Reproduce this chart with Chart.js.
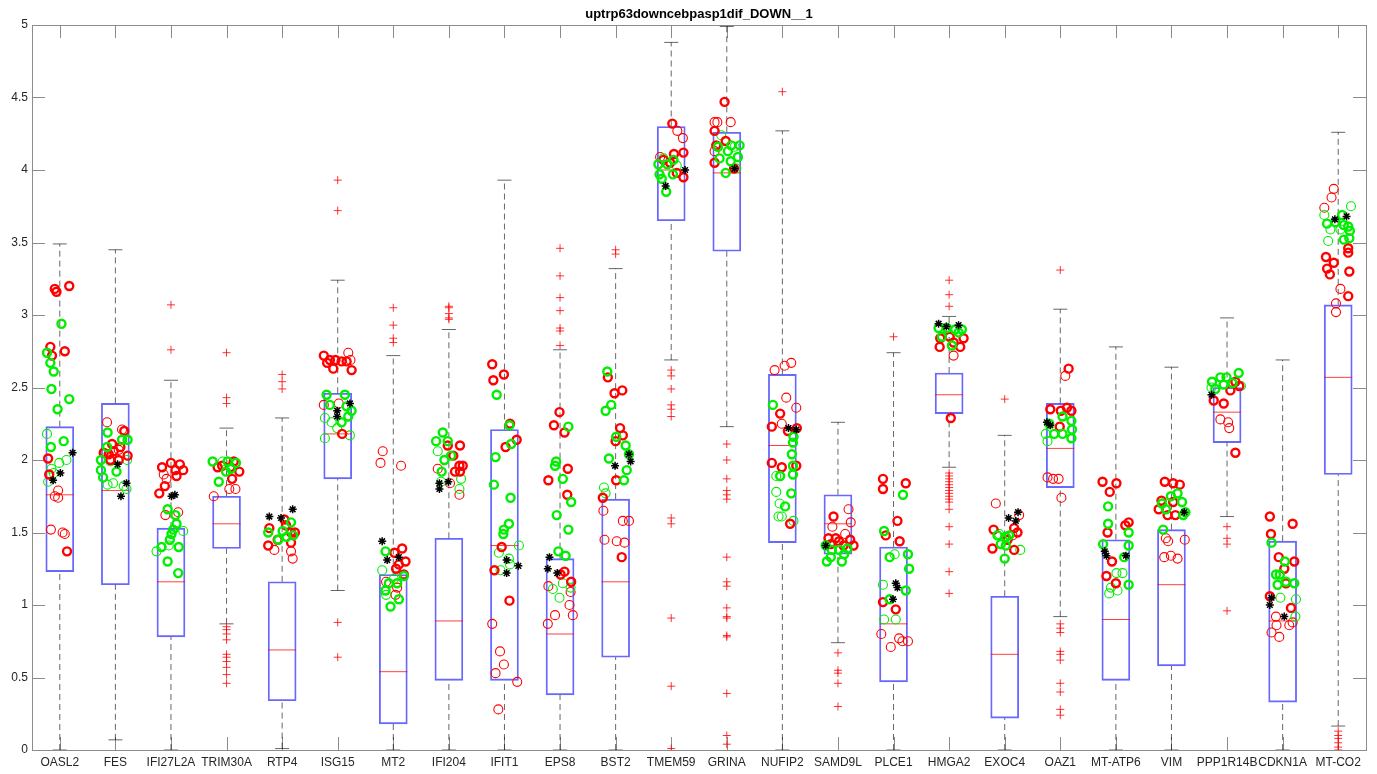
<!DOCTYPE html>
<html>
<head>
<meta charset="utf-8">
<title>uptrp63downcebpasp1dif_DOWN__1</title>
<script src="https://cdn.jsdelivr.net/npm/chart.js@4.4.1/dist/chart.umd.min.js"></script>
<style>
  html, body { margin: 0; padding: 0; background: #fff; }
  canvas { display: block; }
</style>
</head>
<body>
<canvas id="chart" width="1377" height="774"></canvas>
<script>
const title = 'uptrp63downcebpasp1dif_DOWN__1';
const genes = ['OASL2', 'FES', 'IFI27L2A', 'TRIM30A', 'RTP4', 'ISG15', 'MT2', 'IFI204', 'IFIT1', 'EPS8', 'BST2', 'TMEM59',
  'GRINA', 'NUFIP2', 'SAMD9L', 'PLCE1', 'HMGA2', 'EXOC4', 'OAZ1', 'MT-ATP6', 'VIM', 'PPP1R14B', 'CDKN1A', 'MT-CO2'];

// box statistics per gene
const whiskerLow = [0, 0.07, 0, 0.87, 0.01, 1.10, 0, 0, 0, 0, 0, 2.69, 2.23, 0, 0.74, 0, 1.95, 0, 0.92, 0, 0, 1.61, 0, 0.165];
const q1 = [1.23, 1.14, 0.78, 1.39, 0.34, 1.87, 0.18, 0.48, 0.48, 0.38, 0.64, 3.65, 3.44, 1.43, 1.35, 0.47, 2.32, 0.22, 1.81, 0.48, 0.58, 2.12, 0.33, 1.90];
const medians = [1.76, 1.79, 1.16, 1.56, 0.69, 2.18, 0.54, 0.89, 1.41, 0.80, 1.16, 4.00, 3.98, 2.10, 1.56, 0.87, 2.45, 0.66, 2.08, 0.90, 1.14, 2.33, 0.89, 2.57];
const q3 = [2.23, 2.39, 1.53, 1.75, 1.16, 2.46, 1.21, 1.46, 2.21, 1.32, 1.73, 4.30, 4.26, 2.59, 1.76, 1.40, 2.60, 1.06, 2.39, 1.45, 1.52, 2.50, 1.44, 3.07];
const whiskerHigh = [3.49, 3.45, 2.55, 2.22, 2.29, 3.24, 2.72, 2.90, 3.93, 2.76, 3.32, 4.88, 4.99, 4.27, 2.26, 2.74, 2.99, 2.17, 3.04, 2.78, 2.64, 2.98, 2.69, 4.26];

const outliers = [
  [], [], [3.07, 2.76],
  [2.74, 2.43, 2.39, 0.85, 0.83, 0.80, 0.76, 0.66, 0.64, 0.61, 0.57, 0.52, 0.46],
  [2.59, 2.54, 2.49],
  [3.93, 3.72, 0.88, 0.64],
  [3.05, 2.93, 2.84, 2.81],
  [3.06, 3.05, 3.01, 2.98, 2.97],
  [],
  [3.46, 3.27, 3.12, 3.03, 2.91, 2.89, 2.79],
  [3.45, 3.42],
  [2.62, 2.58, 2.49, 2.38, 2.35, 2.30, 1.60, 1.56, 0.91, 0.44, 0.01],
  [2.11, 2.00, 1.87, 1.79, 1.76, 1.73, 1.33, 1.16, 1.13, 0.98, 0.92, 0.91, 0.79, 0.78, 0.39, 0.10, 0.04],
  [4.54],
  [0.67, 0.55, 0.53, 0.46, 0.30],
  [2.85],
  [3.24, 3.14, 3.06, 1.91, 1.89, 1.87, 1.85, 1.83, 1.81, 1.79, 1.77, 1.75, 1.73, 1.71, 1.66, 1.54, 1.42, 1.23, 1.08],
  [2.42],
  [3.31, 0.87, 0.84, 0.81, 0.68, 0.66, 0.62, 0.46, 0.40, 0.28, 0.24],
  [], [],
  [1.54, 1.46, 1.42, 0.96],
  [],
  [0.13, 0.10, 0.08, 0.05, 0.02, 0.0]
];

// sample points per gene: [jitter, value]
const redThick = [
  [[-0.09, 3.18], [-0.06, 3.16], [0.17, 3.20], [-0.17, 2.78], [-0.14, 2.72], [0.09, 2.75], [-0.21, 2.01], [-0.19, 1.90], [0.13, 1.37]],
  [[0.16, 2.20], [-0.06, 2.11], [-0.21, 2.05], [-0.12, 2.04], [-0.03, 2.06], [0.06, 2.00], [0.22, 2.03], [0.09, 2.09], [-0.09, 2.00]],
  [[-0.16, 1.95], [0, 1.98], [0.16, 1.97], [0.22, 1.93], [0.08, 1.93], [0.10, 1.89], [-0.11, 1.82], [-0.21, 1.77]],
  [[0.13, 1.99], [-0.08, 1.96], [0.07, 1.95], [0.23, 1.92], [0.10, 1.87], [-0.16, 1.95]],
  [[-0.23, 1.53], [-0.25, 1.41], [0.04, 1.59], [0.16, 1.50], [0.23, 1.50], [0.16, 1.43], [-0.08, 1.45], [0.07, 1.55]],
  [[-0.25, 2.72], [-0.14, 2.69], [-0.04, 2.69], [0.07, 2.68], [0.16, 2.68], [0.25, 2.62], [-0.08, 2.63], [-0.19, 2.67], [0.08, 2.18]],
  [[0.02, 1.36], [0.16, 1.39], [0.22, 1.30], [0.05, 1.25], [0.19, 1.21], [0.10, 1.28]],
  [[-0.02, 2.10], [0.20, 2.10], [0.08, 2.03], [0.19, 1.96], [0.25, 1.96], [0.11, 1.92], [0.20, 1.92]],
  [[-0.22, 2.66], [-0.20, 2.55], [-0.01, 2.59], [0.10, 2.25], [0.22, 2.14], [0.02, 2.09], [-0.05, 1.40], [-0.18, 1.24], [0.09, 1.03]],
  [[-0.01, 2.33], [-0.11, 2.24], [0.08, 2.19], [0.14, 1.94], [-0.21, 1.86], [0.13, 1.76], [0.01, 1.21], [0.08, 1.23], [0.20, 1.16]],
  [[-0.14, 2.57], [-0.02, 2.46], [0.12, 2.48], [0.08, 2.22], [0.13, 2.17], [0, 2.13], [0.01, 1.86], [-0.23, 1.74], [0.11, 1.33]],
  [[0.02, 4.32], [0.22, 4.12], [0.05, 4.11], [-0.14, 4.07], [-0.02, 4.05], [0.10, 3.98], [0.22, 3.95]],
  [[-0.04, 4.47], [-0.22, 4.27], [-0.02, 4.20], [-0.19, 4.17], [-0.22, 4.05], [0.13, 4.01]],
  [[-0.04, 2.32], [-0.19, 2.23], [0.10, 2.20], [0.26, 2.22], [-0.19, 1.98], [-0.01, 1.95], [0.25, 1.96], [0.14, 1.56]],
  [[-0.08, 1.61], [-0.17, 1.46], [-0.04, 1.46], [0.22, 1.45], [0.02, 1.44], [-0.13, 1.42], [0.10, 1.41], [0.28, 1.41]],
  [[-0.19, 1.87], [-0.19, 1.80], [0.22, 1.84], [0.07, 1.58], [-0.14, 1.48], [0.11, 1.44], [-0.19, 1.02], [0.04, 0.97]],
  [[-0.16, 2.84], [-0.17, 2.78], [0.01, 2.85], [0.08, 2.81], [0.26, 2.84], [0.20, 2.78], [0.03, 2.29]],
  [[-0.20, 1.52], [0.17, 1.53], [0.23, 1.50], [-0.22, 1.39], [0.17, 1.38], [0.05, 1.45]],
  [[0.15, 2.63], [-0.18, 2.35], [0.01, 2.34], [0.12, 2.36], [0.20, 2.34], [-0.01, 2.23]],
  [[-0.24, 1.85], [0.01, 1.84], [-0.11, 1.78], [0.23, 1.57], [0.17, 1.55], [-0.15, 1.50], [-0.07, 1.30], [-0.17, 1.20], [0, 1.15]],
  [[-0.12, 1.85], [0.03, 1.84], [0.15, 1.83], [-0.18, 1.72], [0.03, 1.71], [-0.23, 1.66], [-0.07, 1.62], [0.07, 1.62]],
  [[-0.24, 2.41], [-0.06, 2.39], [0.06, 2.48], [0.15, 2.54], [0.22, 2.51], [0.15, 2.05]],
  [[-0.23, 1.61], [0.18, 1.56], [-0.21, 1.49], [-0.07, 1.33], [0.21, 1.30], [0.03, 1.25], [0.06, 1.15], [-0.23, 1.06], [0.15, 0.98]],
  [[-0.22, 3.40], [-0.08, 3.36], [-0.20, 3.32], [-0.15, 3.28], [0.18, 3.46], [0.18, 3.43], [0.20, 3.30], [0.18, 3.13]]
];

const redThin = [
  [[-0.03, 1.79], [-0.09, 1.75], [-0.03, 1.74], [-0.16, 1.52], [0.05, 1.50], [0.09, 1.49]],
  [[-0.15, 2.26], [0.12, 2.21], [0.06, 2.07]],
  [[-0.13, 1.90], [-0.08, 1.87], [0.13, 1.64], [-0.10, 1.62]],
  [[-0.23, 1.75], [0.05, 1.80], [0.16, 1.80]],
  [[-0.14, 1.38], [0.16, 1.37], [0.19, 1.32]],
  [[0.19, 2.74], [0.23, 2.69], [-0.25, 2.38], [0.02, 2.39]],
  [[-0.19, 2.06], [-0.23, 1.98], [0.14, 1.96], [0.04, 1.07], [-0.13, 1.16], [0.07, 1.12]],
  [[-0.20, 1.94], [0.02, 1.84], [0.19, 1.76]],
  [[-0.22, 0.87], [-0.08, 0.68], [-0.01, 0.59], [-0.16, 0.53], [0.23, 0.47], [-0.11, 0.28]],
  [[-0.21, 1.13], [0.19, 1.09], [0.17, 1.00], [-0.09, 0.93], [0.23, 0.93], [-0.22, 0.87]],
  [[-0.22, 1.65], [0.13, 1.58], [0.24, 1.58], [-0.20, 1.45], [0.02, 1.44], [0.16, 1.43]],
  [[0.11, 4.27], [0.21, 4.22], [-0.20, 4.09]],
  [[-0.22, 4.33], [-0.17, 4.33], [0.07, 4.33], [-0.22, 4.13]],
  [[-0.14, 2.62], [0.04, 2.65], [0.16, 2.67], [0.07, 2.43], [0.25, 2.36], [-0.01, 2.25]],
  [[0.19, 1.66], [0.23, 1.57], [-0.10, 1.54], [0.13, 1.49]],
  [[-0.22, 0.80], [-0.05, 0.71], [0.10, 0.77], [0.16, 0.75], [0.26, 0.75]],
  [[0.08, 2.72]],
  [[-0.16, 1.70], [0.26, 1.62], [0.14, 1.48]],
  [[0.09, 2.58], [-0.23, 1.88], [-0.13, 1.87], [-0.03, 1.87], [0.02, 1.74]],
  [],
  [[-0.10, 1.46], [-0.06, 1.44], [0.24, 1.45], [-0.13, 1.33], [-0.01, 1.34], [0.11, 1.32]],
  [[-0.12, 2.28], [0.02, 2.26], [0.04, 2.22]],
  [[-0.12, 0.92], [-0.11, 0.86], [-0.20, 0.81], [-0.06, 0.78], [0.12, 0.86], [0.18, 0.88]],
  [[-0.08, 3.87], [-0.12, 3.81], [-0.25, 3.74], [0.04, 3.18], [-0.04, 3.08], [-0.04, 3.02]]
];

const greenThick = [
  [[0.03, 2.94], [-0.23, 2.74], [-0.17, 2.67], [-0.11, 2.61], [-0.15, 2.49], [0.17, 2.42], [-0.04, 2.35], [0.07, 2.13], [-0.16, 2.09]],
  [[-0.14, 2.19], [0.22, 2.14], [0.12, 2.14], [-0.15, 2.09], [-0.26, 2.00], [-0.26, 1.93], [0.02, 1.92], [-0.22, 1.88]],
  [[-0.06, 1.66], [0.08, 1.62], [0.10, 1.56], [0.04, 1.52], [0.01, 1.49], [-0.02, 1.45], [-0.17, 1.40], [0.14, 1.40], [-0.06, 1.30], [0.13, 1.22]],
  [[-0.25, 1.99], [0.02, 1.99], [0.17, 1.98], [0.08, 1.94], [-0.01, 1.92], [-0.14, 1.85]],
  [[-0.25, 1.50], [0.01, 1.51], [0.16, 1.57], [0.20, 1.48], [-0.07, 1.45], [0.08, 1.47]],
  [[-0.20, 2.45], [0.13, 2.45], [-0.14, 2.38], [0.16, 2.37], [0.25, 2.34], [0.19, 2.30], [0.07, 2.26]],
  [[-0.14, 1.37], [0.19, 1.20], [-0.08, 1.15], [0.07, 1.15], [-0.14, 1.10], [0.10, 1.04], [-0.05, 0.99]],
  [[-0.11, 2.19], [-0.23, 2.13], [-0.02, 2.13], [0.04, 2.03], [-0.08, 2.00], [-0.13, 1.92]],
  [[-0.14, 2.45], [0.09, 2.24], [0.12, 2.11], [-0.16, 2.02], [-0.19, 1.83], [0.11, 1.74], [0.08, 1.56], [-0.01, 1.52], [-0.02, 1.49]],
  [[0.15, 2.23], [-0.07, 1.99], [-0.09, 1.96], [0.05, 1.87], [0.20, 1.71], [-0.06, 1.62], [0.15, 1.52], [-0.03, 1.37], [0.10, 1.34]],
  [[-0.15, 2.61], [-0.08, 2.38], [-0.18, 2.34], [0.01, 2.16], [0.18, 2.10], [0.24, 2.04], [-0.12, 2.01], [0.20, 1.93], [0.15, 1.86]],
  [[-0.23, 4.04], [-0.07, 4.04], [0.04, 4.07], [-0.21, 3.97], [-0.17, 3.94], [0.03, 3.97], [-0.09, 3.85]],
  [[-0.16, 4.16], [0.08, 4.17], [0.23, 4.17], [0.02, 4.13], [0.20, 4.09], [0.07, 4.06], [-0.13, 4.08], [-0.02, 3.98]],
  [[-0.17, 2.38], [0.20, 2.16], [0.19, 2.12], [0.17, 2.04], [0.19, 1.96], [0.19, 1.90], [-0.04, 1.89], [0.16, 1.77], [0.05, 1.68]],
  [[-0.22, 1.41], [-0.11, 1.38], [0.02, 1.38], [0.17, 1.39], [0.11, 1.35], [-0.20, 1.30], [-0.13, 1.33], [0.07, 1.30]],
  [[0.17, 1.76], [-0.17, 1.51], [-0.07, 1.33], [0.26, 1.35], [0.28, 1.25], [0.22, 1.10], [-0.07, 1.04]],
  [[-0.19, 2.91], [-0.04, 2.91], [0.11, 2.90], [0.23, 2.90], [-0.13, 2.85], [0.05, 2.79], [0.17, 2.88]],
  [[-0.13, 1.48], [0.02, 1.47], [-0.07, 1.42], [0.02, 1.41], [0, 1.32], [0.08, 1.48]],
  [[0.04, 2.30], [-0.20, 2.25], [0.20, 2.27], [-0.11, 2.18], [0.04, 2.18], [0.21, 2.21], [0.20, 2.15]],
  [[-0.14, 1.68], [-0.14, 1.56], [0.23, 1.50], [-0.23, 1.42], [0.23, 1.41], [0.15, 1.33], [0.23, 1.14]],
  [[0.11, 1.77], [-0.01, 1.75], [0.19, 1.71], [-0.17, 1.70], [-0.10, 1.66], [0.21, 1.62], [0.25, 1.64], [-0.15, 1.52]],
  [[-0.27, 2.54], [-0.12, 2.57], [-0.01, 2.57], [0.21, 2.60], [-0.06, 2.52], [0.10, 2.53], [-0.21, 2.49]],
  [[-0.20, 1.43], [0.04, 1.30], [-0.12, 1.21], [-0.05, 1.21], [0.06, 1.16], [0.21, 1.15], [-0.09, 1.14]],
  [[0.07, 3.69], [-0.20, 3.63], [0.10, 3.62], [0.18, 3.61], [0.21, 3.58], [0.20, 3.53], [0.10, 3.52], [-0.05, 3.64]]
];

const greenThin = [
  [[-0.23, 2.18], [0.12, 2.00], [-0.01, 1.98], [-0.15, 1.94], [-0.11, 1.91], [-0.21, 1.85]],
  [[-0.09, 1.99], [0.21, 2.00], [-0.14, 1.83], [-0.04, 1.84], [0.15, 1.82], [0.20, 1.80]],
  [[0.22, 1.51], [-0.26, 1.37], [-0.04, 1.41]],
  [[-0.07, 1.99]],
  [],
  [[-0.23, 2.29], [-0.11, 2.26], [-0.01, 2.22], [-0.23, 2.15], [0.22, 2.17]],
  [[-0.20, 1.24], [-0.13, 1.07], [0.01, 1.18]],
  [[-0.20, 2.06], [-0.14, 1.85], [0.22, 1.87], [0.19, 1.80]],
  [[0.26, 1.41], [-0.10, 1.36], [0.10, 1.28], [-0.07, 1.24], [0.08, 1.32]],
  [[-0.13, 1.11], [0.05, 1.15], [0.19, 1.12], [-0.01, 1.05]],
  [[-0.21, 1.81], [-0.18, 1.77]],
  [[-0.14, 4.08], [0.10, 4.03]],
  [[-0.10, 4.24], [0.17, 4.01], [0.14, 4.16]],
  [[-0.11, 1.89], [-0.11, 1.78], [-0.05, 1.70], [-0.07, 1.61], [-0.01, 1.61], [0.20, 1.58]],
  [],
  [[0.02, 1.35], [-0.19, 1.14], [-0.17, 0.90], [0.04, 0.90]],
  [],
  [[0.28, 1.38], [-0.10, 1.49]],
  [[-0.26, 2.18], [-0.23, 2.13]],
  [[0.01, 1.22], [0.12, 1.22], [-0.09, 1.12], [-0.12, 1.08], [0.03, 1.10]],
  [],
  [[0.25, 2.51], [-0.28, 2.50]],
  [[0.24, 1.04], [-0.04, 1.05], [0.23, 0.92]],
  [[-0.25, 3.69], [0.23, 3.75], [-0.14, 3.59], [-0.18, 3.51], [0.04, 3.59]]
];

const stars = [
  [[0.23, 2.05], [0.01, 1.91], [-0.12, 1.86]],
  [[0.20, 1.84], [0.10, 1.75], [0.04, 1.97]],
  [[0.01, 1.75], [0.07, 1.76]],
  [],
  [[-0.23, 1.61], [-0.02, 1.60], [0.19, 1.66]],
  [[0.22, 2.39], [-0.01, 2.34], [-0.01, 2.30]],
  [[-0.20, 1.44], [-0.11, 1.31], [0.10, 1.33]],
  [[-0.17, 1.84], [-0.01, 1.85], [-0.17, 1.80]],
  [[0.04, 1.31], [0.25, 1.27], [0.04, 1.22]],
  [[-0.19, 1.33], [-0.22, 1.25], [-0.05, 1.22]],
  [[-0.01, 1.96], [0.24, 2.04], [0.27, 1.99]],
  [[0.25, 4.00], [-0.10, 3.89]],
  [[0.14, 4.01]],
  [[0.11, 2.22], [0.25, 2.21]],
  [[-0.22, 1.41]],
  [[0.07, 1.12], [0.04, 1.15], [-0.01, 1.04]],
  [[-0.19, 2.94], [-0.05, 2.92], [0.17, 2.93]],
  [[0.07, 1.60], [0.20, 1.58], [0.24, 1.64]],
  [[-0.24, 2.26], [-0.18, 2.24]],
  [[-0.20, 1.37], [-0.17, 1.34], [0.18, 1.34]],
  [[0.23, 1.64]],
  [[-0.28, 2.45]],
  [[-0.23, 1.00], [0.03, 0.92], [-0.20, 1.05]],
  [[-0.06, 3.66], [0.15, 3.68]]
];

const FONT = 'Liberation Sans, Arial, Helvetica, sans-serif';
const TEXT = '#262626';
const AXIS = '#8c8c8c';

Chart.defaults.font.family = FONT;

const toPoints = lists => lists.flatMap((pts, i) => pts.map(([dx, v]) => ({ x: i + 1 + dx, y: v })));

const circles = (pts, color, radius, width, order) => ({
  type: 'scatter',
  data: toPoints(pts),
  pointStyle: 'circle',
  pointRadius: radius,
  pointBorderWidth: width,
  pointBorderColor: color,
  pointBackgroundColor: 'rgba(0,0,0,0)',
  order: order
});

// frame with inward ticks on all four sides, title centred over the axes
const frame = {
  id: 'frame',
  beforeDatasetsDraw(chart) {
    const { ctx, chartArea: a, scales: { x, y } } = chart;
    const len = Math.round((a.right - a.left) * 0.01);
    ctx.save();
    ctx.strokeStyle = AXIS;
    ctx.lineWidth = 1;
    ctx.beginPath();
    x.ticks.forEach(t => {
      const px = Math.round(x.getPixelForValue(t.value)) + 0.5;
      ctx.moveTo(px, a.bottom); ctx.lineTo(px, a.bottom - len);
      ctx.moveTo(px, a.top); ctx.lineTo(px, a.top + len);
    });
    y.ticks.forEach(t => {
      const py = Math.round(y.getPixelForValue(t.value)) + 0.5;
      ctx.moveTo(a.left, py); ctx.lineTo(a.left + len, py);
      ctx.moveTo(a.right, py); ctx.lineTo(a.right - len, py);
    });
    ctx.stroke();
    ctx.strokeRect(Math.round(a.left) + 0.5, Math.round(a.top) + 0.5,
      Math.round(a.right - a.left), Math.round(a.bottom - a.top));

    ctx.fillStyle = '#000';
    ctx.font = 'bold 13px ' + FONT;
    ctx.textAlign = 'center';
    ctx.textBaseline = 'middle';
    ctx.fillText(title, (a.left + a.right) / 2, 14);
    ctx.restore();
  }
};

new Chart(document.getElementById('chart'), {
  type: 'bar',
  data: {
    datasets: [
      {
        type: 'line',
        data: genes.flatMap((g, i) => [
          { x: i + 1, y: q3[i] }, { x: i + 1, y: whiskerHigh[i] }, { x: i + 1, y: null },
          { x: i + 1, y: whiskerLow[i] }, { x: i + 1, y: q1[i] }, { x: i + 1, y: null }
        ]),
        borderColor: 'rgba(0,0,0,0.6)',
        borderWidth: 1,
        borderDash: [6, 4],
        pointRadius: 0,
        spanGaps: false,
        order: 10
      },
      {
        type: 'scatter',
        data: genes.flatMap((g, i) => [{ x: i + 1, y: whiskerHigh[i] }, { x: i + 1, y: whiskerLow[i] }]),
        pointStyle: 'line',
        pointRadius: 7,
        pointBorderWidth: 1,
        pointBorderColor: 'rgba(0,0,0,0.6)',
        order: 10
      },
      {
        type: 'bar',
        data: genes.map((g, i) => ({ x: i + 1, y: [q1[i], q3[i]] })),
        backgroundColor: 'rgba(0,0,0,0)',
        borderColor: 'rgba(40,40,255,0.7)',
        borderWidth: 1.2,
        borderSkipped: false,
        barThickness: 28,
        grouped: false,
        order: 9
      },
      {
        type: 'scatter',
        data: genes.map((g, i) => ({ x: i + 1, y: medians[i] })),
        pointStyle: 'line',
        pointRadius: 14,
        pointBorderWidth: 1,
        pointBorderColor: 'rgba(255,0,0,0.75)',
        order: 8
      },
      {
        type: 'scatter',
        data: outliers.flatMap((vals, i) => vals.map(v => ({ x: i + 1, y: v }))),
        pointStyle: 'cross',
        pointRadius: 4,
        pointBorderWidth: 1,
        pointBorderColor: 'rgba(255,0,0,0.8)',
        order: 7
      },
      circles(redThin, '#ff0000', 4.5, 1.1, 6),
      circles(greenThin, '#00ee00', 4.5, 1.1, 5),
      circles(redThick, '#ff0000', 4, 2.4, 4),
      circles(greenThick, '#00ee00', 4, 2.4, 3),
      {
        type: 'scatter',
        data: toPoints(stars),
        pointStyle: 'star',
        pointRadius: 4,
        pointBorderWidth: 1.5,
        pointBorderColor: '#000',
        order: 1
      }
    ]
  },
  options: {
    responsive: false,
    animation: false,
    events: [],
    layout: { autoPadding: false, padding: { left: 0, right: 11, top: 25, bottom: 0 } },
    plugins: {
      legend: { display: false },
      tooltip: { enabled: false },
      title: { display: false }
    },
    scales: {
      x: {
        type: 'linear',
        min: 0.5,
        max: 24.5,
        offset: false,
        afterBuildTicks: s => { s.ticks = genes.map((g, i) => ({ value: i + 1 })); },
        afterFit: s => { s.height = 24; s.paddingLeft = 0; s.paddingRight = 0; },
        grid: { display: false, drawTicks: false, offset: false },
        border: { display: false },
        ticks: {
          autoSkip: false,
          maxRotation: 0,
          minRotation: 0,
          padding: 5,
          color: TEXT,
          font: { family: FONT, size: 12 },
          callback: v => genes[Math.round(v) - 1]
        }
      },
      y: {
        min: 0,
        max: 5,
        afterFit: s => { s.width = 32; },
        grid: { display: false, drawTicks: false },
        border: { display: false },
        ticks: {
          stepSize: 0.5,
          padding: 4,
          color: TEXT,
          font: { family: FONT, size: 12 },
          callback: v => String(v)
        }
      }
    }
  },
  plugins: [frame]
});
</script>
</body>
</html>
